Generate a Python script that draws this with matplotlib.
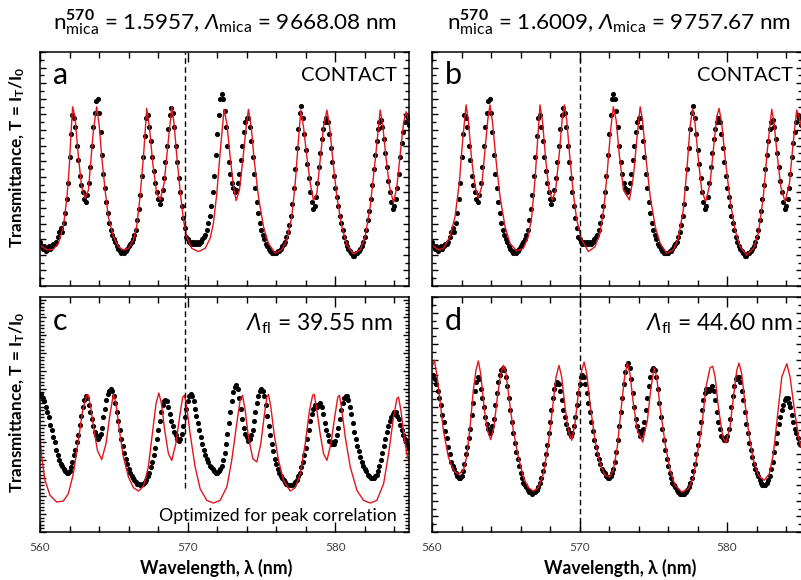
import numpy as np
import matplotlib
matplotlib.use("Agg")
import matplotlib.pyplot as plt
import matplotlib.ticker as mtick

plt.rcParams['font.family'] = ['Lato', 'DejaVu Sans']
plt.rcParams['mathtext.fontset'] = 'custom'
plt.rcParams['mathtext.rm'] = 'Lato'
plt.rcParams['mathtext.it'] = 'Lato:italic'
plt.rcParams['mathtext.sf'] = 'Lato:italic'
plt.rcParams['mathtext.bf'] = 'Lato:bold'

# ---------------- data ----------------
# measured spectra sampled every 0.1 nm from 560.0 to 585.0 nm
lam_data = np.round(np.arange(5600, 5851) / 10, 1)

# contact spectrum (panels a, b), transmittance in a.u.
T_contact = [19, 17, 16, 17, 15, 16, 17, 16, 17, 18,
             18, 19, 21, 23, 25, 23, 27, 31, 37, 44,
             55, 65, 73, 72, 68, 60, 54, 47, 43, 40,
             37, 36, 39, 44, 51, 60, 68, 74, 79, 80,
             74, 66, 56, 48, 42, 36, 31, 27, 24, 22,
             20, 19, 17, 16, 15, 14, 15, 14, 15, 16,
             17, 18, 19, 20, 22, 24, 28, 33, 39, 47,
             55, 64, 72, 73, 68, 62, 55, 49, 44, 40,
             37, 35, 37, 41, 46, 53, 60, 67, 73, 76,
             74, 68, 60, 53, 46, 40, 34, 29, 25, 21,
             20, 19, 18, 19, 18, 19, 18, 19, 18, 19,
             20, 21, 22, 24, 27, 30, 34, 40, 47, 56,
             65, 73, 80, 82, 80, 75, 68, 60, 53, 48,
             44, 42, 40, 41, 44, 48, 54, 60, 66, 70,
             72, 72, 68, 62, 55, 48, 42, 36, 31, 27,
             24, 22, 20, 18, 17, 16, 15, 14, 14, 14,
             14, 15, 15, 16, 17, 18, 19, 21, 23, 26,
             30, 35, 42, 50, 59, 67, 74, 77, 72, 65,
             58, 52, 46, 40, 36, 33, 34, 38, 44, 51,
             57, 63, 67, 70, 72, 70, 65, 59, 53, 47,
             42, 38, 34, 30, 27, 24, 21, 19, 17, 16,
             15, 14, 13, 13, 14, 14, 15, 16, 17, 19,
             21, 24, 28, 32, 37, 43, 50, 56, 62, 67,
             70, 71, 68, 63, 57, 51, 45, 40, 36, 33,
             34, 37, 42, 48, 55, 61, 66, 70, 73, 72,
             69]

# spectrum with fluid layer (panels c, d), transmittance in a.u.
T_fluid = [66, 67, 65, 63, 60, 57, 54, 50, 47, 43,
           40, 36, 33, 30, 28, 27, 25, 24, 23, 23,
           24, 26, 29, 33, 36, 40, 44, 50, 55, 60,
           64, 66, 65, 61, 57, 53, 49, 46, 44, 42,
           43, 45, 48, 54, 59, 64, 67, 69, 70, 69,
           66, 62, 57, 52, 47, 42, 38, 34, 31, 28,
           25, 23, 21, 20, 19, 18, 17, 17, 16, 17,
           17, 18, 19, 21, 23, 26, 29, 33, 37, 42,
           47, 52, 57, 61, 63, 64, 63, 60, 56, 52,
           49, 46, 44, 42, 41, 42, 45, 49, 54, 59,
           63, 66, 67, 66, 63, 59, 55, 51, 47, 43,
           39, 36, 33, 31, 29, 27, 26, 25, 24, 23,
           23, 24, 25, 27, 30, 34, 39, 45, 51, 57,
           63, 68, 71, 72, 70, 65, 59, 53, 48, 45,
           43, 41, 42, 44, 47, 52, 57, 62, 66, 69,
           70, 69, 66, 61, 55, 49, 44, 39, 35, 31,
           28, 25, 23, 21, 20, 19, 18, 17, 16, 16,
           16, 16, 17, 18, 19, 21, 23, 26, 29, 33,
           37, 42, 47, 52, 56, 59, 61, 61, 60, 61,
           62, 60, 56, 51, 47, 44, 41, 40, 39, 39,
           41, 44, 48, 53, 58, 62, 65, 66, 66, 64,
           60, 56, 51, 46, 42, 38, 35, 32, 29, 27,
           25, 24, 22, 21, 20, 20, 20, 21, 22, 24,
           27, 30, 34, 38, 42, 46, 49, 52, 54, 56,
           57, 57, 55, 53, 50, 47, 44, 42, 40, 38,
           37]

# fitted curves (wavelength nm, transmittance a.u.)
lam_fit_a = [560.00, 560.45, 560.90, 561.24, 561.58, 561.81, 561.97, 562.10, 562.21, 562.37,
             562.60, 562.82, 563.05, 563.28, 563.43, 563.62, 563.84, 564.02, 564.18, 564.41,
             564.63, 564.97, 565.31, 565.65, 565.99, 566.33, 566.55, 566.78, 567.01, 567.23,
             567.41, 567.64, 567.91, 568.14, 568.41, 568.63, 568.93, 569.08, 569.27, 569.49,
             569.72, 569.94, 570.28, 570.73, 571.19, 571.53, 571.75, 571.98, 572.20, 572.47,
             572.66, 572.88, 573.11, 573.29, 573.51, 573.74, 573.97, 574.12, 574.31, 574.51,
             574.80, 575.14, 575.48, 575.93, 576.38, 576.72, 577.06, 577.29, 577.51, 577.67,
             577.85, 578.08, 578.31, 578.53, 578.76, 578.98, 579.21, 579.44, 579.62, 579.84,
             580.11, 580.45, 580.79, 581.24, 581.69, 582.03, 582.37, 582.71, 583.05, 583.23,
             583.46, 583.68, 583.95, 584.18, 584.41, 584.63, 584.81, 584.97]
T_fit_a = [17.5, 15.4, 15.7, 18.2, 25.4, 36.8, 49.6, 65.2, 76.6, 72.4,
           55.3, 42.5, 37.5, 41.0, 52.4, 66.7, 76.6, 68.1, 55.3, 41.0,
           29.6, 21.1, 16.8, 15.4, 16.1, 19.7, 25.4, 38.2, 55.3, 75.9,
           68.1, 52.4, 39.6, 36.8, 43.9, 58.1, 76.6, 69.5, 55.3, 41.0,
           28.2, 21.1, 16.1, 14.7, 16.1, 20.4, 26.8, 39.6, 56.7, 75.5,
           69.5, 55.3, 42.5, 36.5, 41.0, 53.8, 68.1, 75.5, 68.1, 53.8,
           38.2, 25.4, 18.2, 14.0, 15.4, 19.7, 29.6, 43.9, 62.4, 75.2,
           68.1, 55.3, 43.9, 36.5, 39.6, 53.8, 68.1, 75.2, 68.1, 53.8,
           38.2, 25.4, 17.5, 13.7, 15.4, 21.1, 33.9, 53.8, 75.2, 68.1,
           53.8, 42.5, 35.6, 42.5, 56.7, 69.5, 74.5, 71.0]

lam_fit_b = [560.00, 560.43, 560.77, 561.22, 561.56, 561.85, 562.08, 562.31, 562.46, 562.69,
             562.92, 563.14, 563.37, 563.59, 563.78, 563.93, 564.11, 564.34, 564.61, 564.95,
             565.29, 565.74, 566.19, 566.53, 566.76, 566.98, 567.16, 567.32, 567.48, 567.71,
             567.93, 568.16, 568.38, 568.61, 568.84, 568.97, 569.13, 569.36, 569.58, 569.81,
             570.15, 570.60, 571.05, 571.39, 571.66, 571.89, 572.11, 572.29, 572.48, 572.71,
             572.98, 573.38, 573.65, 573.88, 574.11, 574.27, 574.49, 574.79, 575.13, 575.47,
             575.91, 576.36, 576.70, 577.04, 577.31, 577.49, 577.67, 577.83, 578.06, 578.28,
             578.55, 578.85, 579.07, 579.30, 579.46, 579.64, 579.86, 580.20, 580.54, 580.88,
             581.33, 581.79, 582.12, 582.46, 582.73, 583.03, 583.19, 583.41, 583.64, 583.93,
             584.23, 584.45, 584.72, 584.88, 585.10]
T_fit_b = [17.5, 15.4, 16.1, 21.1, 29.6, 43.9, 62.4, 77.4, 71.0, 53.8,
           42.5, 37.5, 42.5, 58.1, 71.0, 77.4, 69.5, 53.8, 38.2, 25.4,
           18.2, 15.0, 16.1, 21.1, 29.6, 45.3, 62.4, 77.4, 71.0, 53.8,
           41.0, 36.8, 41.0, 55.3, 72.4, 77.4, 71.0, 53.8, 39.6, 28.2,
           19.7, 14.7, 16.8, 22.5, 33.9, 49.6, 66.7, 76.6, 71.0, 55.3,
           41.0, 36.8, 46.7, 62.4, 76.6, 71.0, 55.3, 38.2, 25.4, 18.2,
           14.0, 15.4, 20.4, 32.8, 52.4, 68.1, 75.9, 69.5, 53.8, 41.0,
           36.0, 43.9, 58.1, 72.4, 75.9, 69.5, 55.3, 36.8, 23.9, 16.8,
           13.2, 16.1, 22.5, 38.2, 58.1, 75.5, 69.5, 55.3, 42.5, 36.0,
           43.9, 59.1, 75.2, 72.4, 66.0]

lam_fit_c = [560.00, 560.11, 560.34, 560.68, 561.13, 561.58, 561.92, 562.26, 562.60, 562.89,
             563.16, 563.28, 563.43, 563.66, 563.89, 564.18, 564.47, 564.75, 564.97, 565.15,
             565.38, 565.65, 565.99, 566.33, 566.67, 567.01, 567.34, 567.64, 567.86, 568.05,
             568.23, 568.45, 568.70, 568.93, 569.20, 569.49, 569.67, 569.79, 569.94, 570.17,
             570.51, 570.85, 571.30, 571.75, 572.20, 572.66, 572.99, 573.33, 573.56, 573.72,
             573.90, 574.12, 574.42, 574.69, 574.96, 575.21, 575.37, 575.48, 575.64, 575.86,
             576.16, 576.50, 576.95, 577.29, 577.63, 577.97, 578.26, 578.47, 578.58, 578.76,
             578.98, 579.21, 579.44, 579.71, 580.00, 580.18, 580.29, 580.45, 580.68, 581.02,
             581.47, 581.92, 582.37, 582.82, 583.28, 583.62, 583.95, 584.18, 584.29, 584.45,
             584.67, 584.90, 585.02]
T_fit_c = [44.0, 31.9, 18.8, 10.4, 6.7, 7.2, 11.3, 22.5, 41.2, 58.0,
           66.4, 66.4, 59.8, 46.8, 35.6, 30.4, 39.3, 56.1, 66.9, 61.7,
           46.8, 31.9, 20.7, 14.7, 12.8, 15.5, 26.3, 46.8, 61.7, 67.7,
           61.7, 46.8, 33.7, 30.0, 39.3, 56.1, 65.4, 66.4, 59.8, 44.9,
           26.3, 14.1, 7.6, 6.1, 7.6, 15.1, 30.0, 50.5, 63.6, 66.4,
           58.0, 43.1, 30.9, 29.1, 39.3, 56.1, 65.4, 66.9, 59.8, 44.9,
           30.0, 18.8, 12.8, 14.7, 22.5, 39.3, 58.0, 66.4, 66.9, 58.0,
           44.9, 33.7, 30.0, 39.3, 56.1, 65.4, 66.4, 58.0, 43.1, 26.3,
           13.2, 7.6, 6.1, 7.6, 16.9, 33.7, 54.2, 64.5, 65.4, 58.0,
           43.1, 31.9, 29.1]

lam_fit_d = [560.00, 560.16, 560.32, 560.54, 560.77, 561.11, 561.45, 561.79, 562.12, 562.35,
             562.58, 562.80, 562.98, 563.14, 563.30, 563.53, 563.75, 563.98, 564.20, 564.43,
             564.66, 564.84, 565.02, 565.24, 565.51, 565.85, 566.19, 566.53, 566.87, 567.21,
             567.55, 567.89, 568.18, 568.41, 568.61, 568.79, 569.02, 569.24, 569.47, 569.69,
             569.92, 570.15, 570.31, 570.49, 570.71, 571.05, 571.39, 571.73, 572.02, 572.29,
             572.56, 572.81, 573.04, 573.24, 573.42, 573.65, 573.92, 574.28, 574.60, 574.82,
             575.05, 575.23, 575.46, 575.80, 576.14, 576.47, 576.93, 577.38, 577.72, 578.06,
             578.28, 578.58, 578.85, 579.03, 579.19, 579.41, 579.71, 579.93, 580.20, 580.43,
             580.66, 580.81, 580.99, 581.22, 581.51, 581.79, 582.12, 582.51, 582.87, 583.14,
             583.41, 583.71, 584.05, 584.27, 584.54, 584.84, 585.02]
T_fit_d = [70.2, 73.0, 67.4, 56.0, 43.3, 31.9, 26.2, 24.5, 26.2, 31.9,
           44.7, 60.3, 68.8, 72.8, 67.4, 53.2, 43.3, 39.3, 44.7, 57.4,
           67.4, 70.9, 67.4, 56.0, 43.3, 31.9, 23.4, 18.9, 17.4, 18.9,
           24.8, 37.6, 53.2, 66.0, 70.9, 66.0, 53.2, 43.3, 39.0, 46.1,
           58.9, 68.8, 72.3, 67.4, 54.6, 39.0, 29.1, 24.1, 23.4, 26.2,
           36.2, 51.8, 65.2, 71.9, 67.4, 54.6, 43.3, 38.3, 47.5, 60.3,
           69.9, 66.0, 53.2, 37.6, 26.2, 19.9, 17.0, 18.4, 23.4, 36.2,
           44.7, 62.0, 69.9, 70.5, 66.0, 53.2, 40.4, 37.9, 44.7, 57.4,
           68.8, 71.9, 67.4, 54.6, 40.4, 30.5, 24.1, 22.0, 24.8, 33.3,
           48.9, 66.0, 71.6, 66.0, 53.2, 40.4, 36.2]

titles = [r'$\mathrm{n}^{\mathbf{570}}_{\mathrm{mica}}$ = 1.5957, $\mathsf{\Lambda}_{\mathrm{mica}}$ = 9668.08 nm',
          r'$\mathrm{n}^{\mathbf{570}}_{\mathrm{mica}}$ = 1.6009, $\mathsf{\Lambda}_{\mathrm{mica}}$ = 9757.67 nm']
corner_text = ['CONTACT', 'CONTACT',
               r'$\mathsf{\Lambda}_{\mathrm{fl}}$ = 39.55 nm', r'$\mathsf{\Lambda}_{\mathrm{fl}}$ = 44.60 nm']
letters = ['a', 'b', 'c', 'd']
marker_lines = [569.85, 570.0]

# ---------------- figure ----------------
W, H = 801, 580
fig = plt.figure(figsize=(W / 100, H / 100), dpi=100)

def px_axes(x0, y0, x1, y1):
    return fig.add_axes([x0 / W, 1 - y1 / H, (x1 - x0) / W, (y1 - y0) / H])

ax_a = px_axes(40, 52, 409, 286)
ax_b = px_axes(432, 52, 802, 286)
ax_c = px_axes(40, 297, 409, 532)
ax_d = px_axes(432, 297, 802, 532)
axes = [ax_a, ax_b, ax_c, ax_d]

red = '#e3141c'
ms = 3.7
ax_a.plot(lam_data, T_contact, 'o', ms=ms, color='black', mew=0)
ax_a.plot(lam_fit_a, T_fit_a, color=red, lw=1.0)
ax_b.plot(lam_data, T_contact, 'o', ms=ms, color='black', mew=0)
ax_b.plot(lam_fit_b, T_fit_b, color=red, lw=1.0)
ax_c.plot(lam_data, T_fluid, 'o', ms=ms, color='black', mew=0)
ax_c.plot(lam_fit_c, T_fit_c, color=red, lw=1.0)
ax_d.plot(lam_data, T_fluid, 'o', ms=ms, color='black', mew=0)
ax_d.plot(lam_fit_d, T_fit_d, color=red, lw=1.0)

ax_a.set_xlim(560, 585)
ax_c.set_xlim(560, 585)
ax_b.set_xlim(560, 585.08)
ax_d.set_xlim(560, 585.08)
ax_a.set_ylim(0, 100)
ax_b.set_ylim(0, 100)
ax_d.set_ylim(0, 100)
ax_c.set_ylim(-10.1, 121.4)

for i, ax in enumerate(axes):
    for s in ax.spines.values():
        s.set_linewidth(1.1)
    ax.xaxis.set_major_locator(mtick.MultipleLocator(10))
    ax.xaxis.set_minor_locator(mtick.MultipleLocator(2))
    if ax is ax_c:
        ax.yaxis.set_major_locator(mtick.MultipleLocator(10))
        ax.yaxis.set_minor_locator(mtick.MultipleLocator(2))
    else:
        ax.yaxis.set_major_locator(mtick.MultipleLocator(20 / 3))
        ax.yaxis.set_minor_locator(mtick.MultipleLocator(10 / 3))
    ax.tick_params(which='both', direction='in', top=True, right=True, width=1.0)
    ax.tick_params(axis='x', which='major', length=7)
    ax.tick_params(axis='x', which='minor', length=4.5)
    ax.tick_params(axis='y', which='major', length=4.5)
    ax.tick_params(axis='y', which='minor', length=2.8)
    ax.set_yticklabels([])
    if i < 2:
        ax.set_xticklabels([])
    else:
        ax.tick_params(axis='x', labelsize=8.5, labelcolor='#404040', pad=7)
    ax.text(0.035, 0.9, letters[i], transform=ax.transAxes, fontsize=22,
            ha='left', va='center')

ax_a.text(0.967, 0.9, corner_text[0], transform=ax_a.transAxes, fontsize=14.5,
          ha='right', va='center')
ax_b.text(0.975, 0.9, corner_text[1], transform=ax_b.transAxes, fontsize=14.5,
          ha='right', va='center')
ax_c.text(0.955, 0.885, corner_text[2], transform=ax_c.transAxes, fontsize=16.5,
          ha='right', va='center')
ax_d.text(0.976, 0.885, corner_text[3], transform=ax_d.transAxes, fontsize=16.5,
          ha='right', va='center')

ax_c.text(0.967, 0.068, 'Optimized for peak correlation', transform=ax_c.transAxes,
          fontsize=12.7, ha='right', va='center')

# dashed reference lines
ax_a.axvline(marker_lines[0], ymin=-0.05, ymax=1, clip_on=False, color='black',
             lw=1.0, ls=(0, (4, 2.5)))
ax_c.axvline(marker_lines[0], ymin=0.187, ymax=1, color='black', lw=1.0, ls=(0, (4, 2.5)))
ax_b.axvline(marker_lines[1], ymin=-0.05, ymax=1, clip_on=False, color='black',
             lw=1.0, ls=(0, (4, 2.5)))
ax_d.axvline(marker_lines[1], ymin=0, ymax=1, color='black', lw=1.0, ls=(0, (4, 2.5)))

fig.text(225 / W, 1 - 22 / H, titles[0], fontsize=16.2, ha='center', va='center')
fig.text(619 / W, 1 - 22 / H, titles[1], fontsize=16.2, ha='center', va='center')

ylab = r'Transmittance, T = I$_{\mathbf{T}}$/I$_{\mathbf{0}}$'
fig.text(17 / W, 1 - 157 / H, ylab, rotation=90, fontsize=12.3, fontweight='bold',
         ha='center', va='center')
fig.text(17 / W, 1 - 402 / H, ylab, rotation=90, fontsize=12.3, fontweight='bold',
         ha='center', va='center')
fig.text(216 / W, 1 - 568 / H, 'Wavelength, λ (nm)', fontsize=12.7, fontweight='bold',
         ha='center', va='center')
fig.text(620 / W, 1 - 568 / H, 'Wavelength, λ (nm)', fontsize=12.7, fontweight='bold',
         ha='center', va='center')

fig.savefig('out.png', dpi=100)
